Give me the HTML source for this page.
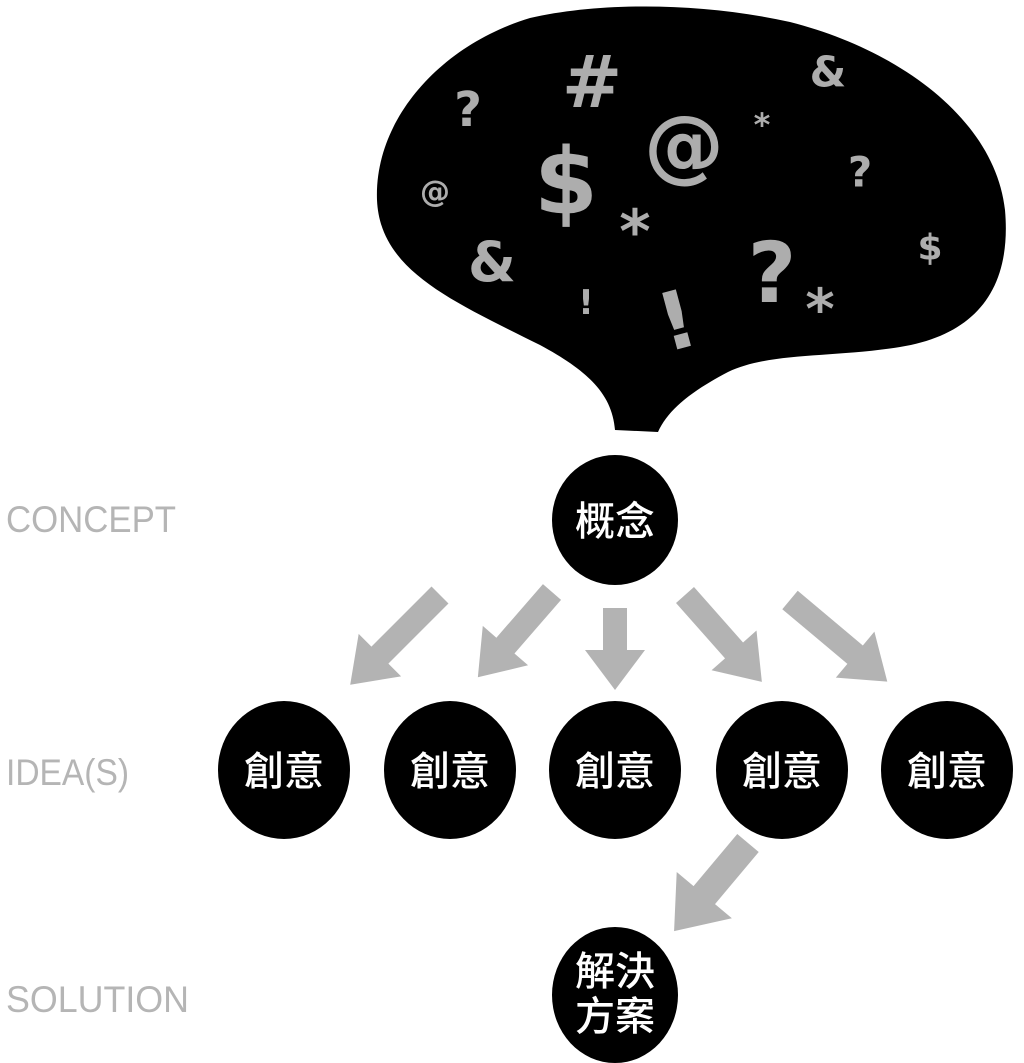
<!DOCTYPE html>
<html><head><meta charset="utf-8"><style>
html,body{margin:0;padding:0;background:#fff;}
svg{display:block}
</style></head><body>
<svg width="1024" height="1063" viewBox="0 0 1024 1063" xmlns="http://www.w3.org/2000/svg">
<path d="M615 430 C612 395 590 372 540 345 C450 300 380 270 377 200 C374 120 440 45 530 18 C600 2 700 2 790 22 C900 50 995 120 1005 210 C1012 290 975 335 900 347 C830 358 770 352 728 372 C690 392 668 410 658 432 Z" fill="#000"/>
<g fill="#adadad" font-family="'DejaVu Sans', sans-serif" font-weight="bold" text-anchor="middle" dominant-baseline="central">
<text x="592" y="82" font-size="72">#</text>
<text x="468" y="110" font-size="48">?</text>
<text x="828" y="72" font-size="42">&amp;</text>
<text x="762" y="125" font-size="32">*</text>
<text x="684" y="145" font-size="80">@</text>
<text x="860" y="172" font-size="42">?</text>
<text x="435" y="192" font-size="30">@</text>
<text x="566" y="182" font-size="92">$</text>
<text x="635" y="232" font-size="60">*</text>
<text x="930" y="248" font-size="36">$</text>
<text x="492" y="262" font-size="55">&amp;</text>
<text x="772" y="273" font-size="84">?</text>
<text x="820" y="310" font-size="56">*</text>
<text x="586" y="303" font-size="34">!</text>
<text x="677" y="321" font-size="80" transform="rotate(-15 677 321)">!</text>
</g>
<g fill="#b3b3b3">
<g transform="translate(440,595) rotate(135)"><polygon points="0,-12 85,-12 85,-30 127,0 85,30 85,12 0,12"/></g>
<g transform="translate(552,592) rotate(131)"><polygon points="0,-12 71,-12 71,-30 113,0 71,30 71,12 0,12"/></g>
<g transform="translate(615,608) rotate(90)"><polygon points="0,-12 42,-12 42,-30 82,0 42,30 42,12 0,12"/></g>
<g transform="translate(685,595) rotate(48.5)"><polygon points="0,-12 74,-12 74,-30 116,0 74,30 74,12 0,12"/></g>
<g transform="translate(790,600) rotate(40)"><polygon points="0,-12 85,-12 85,-30 127,0 85,30 85,12 0,12"/></g>
<g transform="translate(748,843) rotate(130)"><polygon points="0,-14 68,-14 68,-36 115,0 68,36 68,14 0,14"/></g>
</g>
<g fill="#000">
<ellipse cx="615" cy="520" rx="63" ry="65"/>
<ellipse cx="284" cy="770" rx="66" ry="69"/>
<ellipse cx="450" cy="770" rx="66" ry="69"/>
<ellipse cx="615" cy="770" rx="66" ry="69"/>
<ellipse cx="782" cy="770" rx="66" ry="69"/>
<ellipse cx="947" cy="770" rx="66" ry="69"/>
<ellipse cx="615" cy="995" rx="63" ry="68"/>
</g>
<g fill="#fff" font-family="'Noto Sans CJK TC', sans-serif" font-size="40" font-weight="500" text-anchor="middle">
<text x="615" y="535">概念</text>
<text x="284" y="785">創意</text>
<text x="450" y="785">創意</text>
<text x="615" y="785">創意</text>
<text x="782" y="785">創意</text>
<text x="947" y="785">創意</text>
<text x="615" y="985">解決</text>
<text x="615" y="1030">方案</text>
</g>
<g fill="#b5b5b5" font-family="'Liberation Sans', sans-serif" font-size="37">
<text x="6" y="532" textLength="170" lengthAdjust="spacingAndGlyphs">CONCEPT</text>
<text x="6" y="785" textLength="123" lengthAdjust="spacingAndGlyphs">IDEA(S)</text>
<text x="6" y="1012" textLength="183" lengthAdjust="spacingAndGlyphs">SOLUTION</text>
</g>
</svg>
</body></html>
